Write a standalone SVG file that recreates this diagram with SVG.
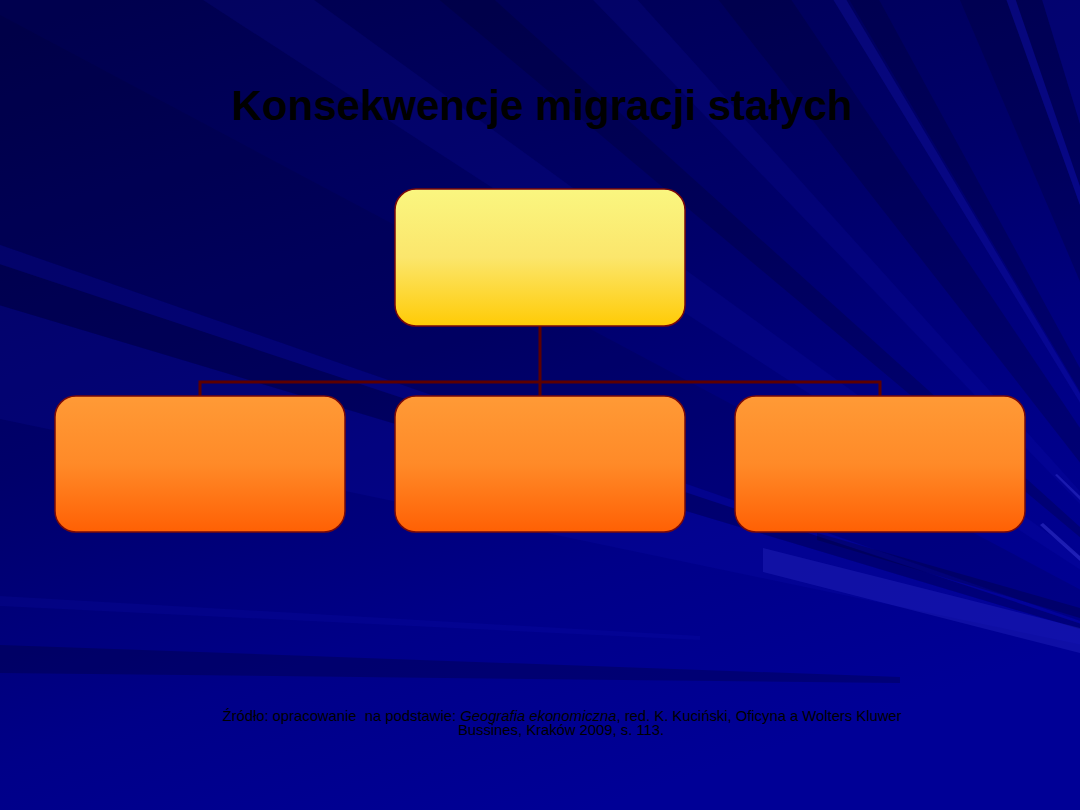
<svg xmlns="http://www.w3.org/2000/svg" width="1080" height="810" viewBox="0 0 1080 810">
  <defs>
    <linearGradient id="bg" x1="0.1" y1="0" x2="0.55" y2="1">
      <stop offset="0" stop-color="#00004e"/>
      <stop offset="0.45" stop-color="#00006a"/>
      <stop offset="0.75" stop-color="#000088"/>
      <stop offset="1" stop-color="#000096"/>
    </linearGradient>
    <linearGradient id="gYellow" x1="0" y1="0" x2="0" y2="1">
      <stop offset="0" stop-color="#faf680"/>
      <stop offset="0.5" stop-color="#fbe66c"/>
      <stop offset="1" stop-color="#ffcb05"/>
    </linearGradient>
    <linearGradient id="gOrange" x1="0" y1="0" x2="0" y2="1">
      <stop offset="0" stop-color="#ff9a36"/>
      <stop offset="0.5" stop-color="#ff8a28"/>
      <stop offset="1" stop-color="#ff6004"/>
    </linearGradient>
    <style>
      .dark { fill: #000020; opacity: 0.22; }
      .light { fill: #1a1ac8; opacity: 0.13; }
      .box { stroke: #7a0a0a; stroke-width: 1.5; }
      .conn { fill: none; stroke: #5c0000; stroke-width: 3; }
      .title { font-family: "Liberation Sans", Arial, sans-serif; font-weight: bold; font-size: 42px; fill: #000000; }
      .src { font-family: "Liberation Sans", Arial, sans-serif; font-size: 14.8px; fill: #000000; }
    </style>
  </defs>

  <!-- background -->
  <rect x="0" y="0" width="1080" height="810" fill="url(#bg)"/>
  <g id="rays">
    <polygon class="light" points="1250,680 -1197,169 -1145,-38"/>
    <polygon class="dark" points="1250,680 -1145,-38 -1122,-109"/>
    <polygon class="light" points="1250,680 -1122,-109 -1111,-142"/>
    <polygon class="dark" points="1250,680 -1111,-142 -957,-494" style="opacity:0.12"/>
    <polygon class="light" points="1250,680 -847,-682 -773,-790"/>
    <polygon class="dark" points="1250,680 -665,-927 -608,-993"/>
    <polygon class="light" points="1250,680 -487,-1118 -423,-1178"/>
    <polygon class="dark" points="1250,680 -289,-1290 -148,-1393"/>
    <polygon class="light" points="1250,680 -56,-1452 -26,-1470" style="opacity:0.25"/>
    <polygon class="dark" points="1250,680 -19,-1474 53,-1515"/>
    <polygon class="dark" points="1250,680 269,-1620 407,-1674"/>
    <polygon class="light" points="1250,680 407,-1674 436,-1684" style="opacity:0.25"/>
    <polygon class="dark" points="1250,680 436,-1684 519,-1711"/>
    <polygon class="light" points="1250,680 519,-1711 730,-1765"/>
    <polygon class="dark" points="0,645 0,673 900,683 900,677" style="opacity:0.25"/>
    <polygon class="light" points="0,596 0,606 700,640 700,636"/>
    <polygon class="dark" points="817,533 817,540 1080,618 1080,608" style="opacity:0.25"/>
    <polygon fill="#3a3ad8" opacity="0.25" points="763,548 763,572 1080,653 1080,628"/>
    <polygon fill="#6060ff" opacity="0.3" points="1040,525 1043,523 1080,556 1080,561"/>
    <polygon fill="#6060ff" opacity="0.25" points="1055,475 1057,474 1080,496 1080,500"/>
  </g>

  <text class="title" x="542" y="119.5" text-anchor="middle">Konsekwencje migracji stałych</text>

  <g id="connectors">
    <path class="conn" d="M540,326 V396"/>
    <path class="conn" d="M200,396 V382 H880 V396"/>
  </g>

  <g id="node-top">
    <rect class="box" x="395" y="189" width="290" height="137" rx="21" ry="21" fill="url(#gYellow)"/>
  </g>
  <g id="node-left">
    <rect class="box" x="55" y="396" width="290" height="136" rx="21" ry="21" fill="url(#gOrange)"/>
  </g>
  <g id="node-middle">
    <rect class="box" x="395" y="396" width="290" height="136" rx="21" ry="21" fill="url(#gOrange)"/>
  </g>
  <g id="node-right">
    <rect class="box" x="735" y="396" width="290" height="136" rx="21" ry="21" fill="url(#gOrange)"/>
  </g>

  <text class="src" x="562" y="721" text-anchor="middle" xml:space="preserve">Źródło: opracowanie  na podstawie: <tspan font-style="italic">Geografia ekonomiczna</tspan>, red. K. Kuciński, Oficyna a Wolters Kluwer</text>
  <text class="src" x="561" y="734.5" text-anchor="middle">Bussines, Kraków 2009, s. 113.</text>
</svg>
